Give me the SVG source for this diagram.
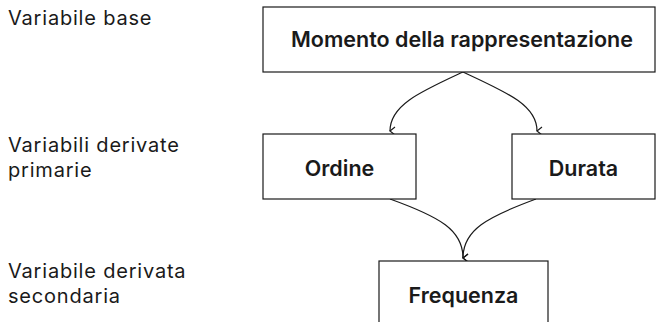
<svg xmlns="http://www.w3.org/2000/svg" width="656" height="322" viewBox="0 0 656 322">
  <style>
    .lvl { font-family: Inter, "Noto Sans", "Liberation Sans", sans-serif; font-size: 20px; letter-spacing: 0.8px; fill: #1a1a1a; }
    .box rect { fill: #ffffff; stroke: #1a1a1a; stroke-width: 1.2; }
    .box text { font-family: Inter, "Noto Sans", "Liberation Sans", sans-serif; font-size: 21.5px; font-weight: 600; fill: #1a1a1a; text-anchor: middle; }
    .edge { fill: none; stroke: #1a1a1a; stroke-width: 1.2; marker-end: url(#arrow); }
  </style>
  <defs>
    <marker id="arrow" viewBox="0 0 10 10" refX="5" refY="9" markerWidth="10" markerHeight="10" markerUnits="userSpaceOnUse" orient="auto">
      <path d="M1,4 L5,9 L9,4" fill="none" stroke="#1a1a1a" stroke-width="1.2"/>
    </marker>
  </defs>
  <rect width="656" height="322" fill="#ffffff"/>

  <!-- level labels -->
  <g id="levels">
    <text class="lvl" x="8" y="25">Variabile base</text>
    <text class="lvl" x="8" y="152">Variabili derivate</text>
    <text class="lvl" x="8" y="177">primarie</text>
    <text class="lvl" x="8" y="278">Variabile derivata</text>
    <text class="lvl" x="8" y="303">secondaria</text>
  </g>

  <!-- connectors -->
  <g id="connectors">
    <path class="edge" d="M463,72 C420,92 390,105 390,131"/>
    <path class="edge" d="M463,72 C506,92 537,105 537,131"/>
    <path class="edge" d="M390,199 C440,217 463,230 463,258"/>
    <path class="edge" d="M536,199 C487,217 463,230 463,258"/>
  </g>

  <g id="node-momento" class="box">
    <rect x="263" y="7" width="392" height="65"/>
    <text x="462" y="47">Momento della rappresentazione</text>
  </g>
  <g id="node-ordine" class="box">
    <rect x="263" y="134" width="153" height="65"/>
    <text x="339.5" y="176">Ordine</text>
  </g>
  <g id="node-durata" class="box">
    <rect x="512" y="134" width="143" height="65"/>
    <text x="583.5" y="176">Durata</text>
  </g>
  <g id="node-frequenza" class="box">
    <rect x="379" y="261" width="169" height="70"/>
    <text x="463.5" y="303">Frequenza</text>
  </g>
</svg>
